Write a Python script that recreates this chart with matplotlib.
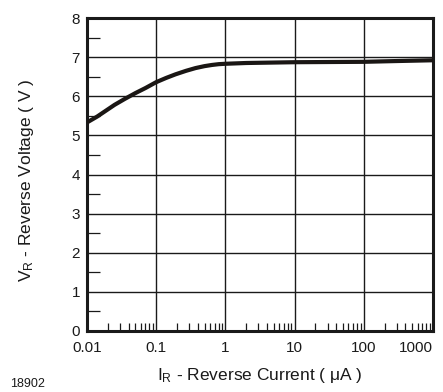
import numpy as np
import matplotlib
matplotlib.use('Agg')
import matplotlib.pyplot as plt
from matplotlib.ticker import LogLocator, FixedLocator, NullFormatter

plt.rcParams['font.family'] = ['Liberation Sans', 'DejaVu Sans']
plt.rcParams['mathtext.fontset'] = 'custom'
plt.rcParams['mathtext.rm'] = 'Liberation Sans'
plt.rcParams['mathtext.it'] = 'Liberation Sans'

# curve
current = [0.01, 0.014, 0.018, 0.025, 0.035, 0.05, 0.07, 0.1, 0.14, 0.19, 0.27, 0.37, 0.5, 0.64, 0.8, 1, 2, 10, 100, 300, 1000]
voltage = [5.33, 5.48, 5.61, 5.78, 5.93, 6.08, 6.21, 6.36, 6.47, 6.56, 6.65, 6.72, 6.77, 6.80, 6.82, 6.83, 6.85, 6.87, 6.88, 6.90, 6.92]
xticks = [0.01, 0.1, 1, 10, 100, 1000]
xlabels = ['0.01', '0.1', '1', '10', '100', '1000']
yticks = [0, 1, 2, 3, 4, 5, 6, 7, 8]

fig = plt.figure(figsize=(4.43, 3.92), dpi=100)
ax = fig.add_axes([87/443, 61/392, 346/443, 313/392])

ax.plot(current, voltage, color='#1a1614', lw=3.0, solid_capstyle='butt',
        solid_joinstyle='round', zorder=3)

ax.set_xscale('log')
ax.set_xlim(0.01, 1000)
ax.set_ylim(0, 8)

ax.set_xticks(xticks)
ax.set_xticklabels(xlabels)
ax.xaxis.set_minor_locator(LogLocator(base=10, subs=np.arange(2, 10)))
ax.xaxis.set_minor_formatter(NullFormatter())
ax.set_yticks(yticks)
ax.yaxis.set_minor_locator(FixedLocator(np.arange(0.5, 8, 1.0)))

ax.grid(True, which='major', color='#1a1a1a', lw=1.0)
ax.tick_params(which='major', length=0, labelsize=11, pad=5, colors='#1a1a1a')
ax.tick_params(axis='x', which='minor', direction='in', length=6, width=0.9, color='#1a1a1a')
ax.tick_params(axis='y', which='minor', direction='in', length=9, width=0.9, color='#1a1a1a')
ax.tick_params(axis='x', which='major', pad=7)

labs = ax.get_xticklabels()
labs[-1].set_horizontalalignment('right')
labs[-1].set_x(1000)

for s in ax.spines.values():
    s.set_linewidth(2.2)
    s.set_color('#1a1a1a')

ax.set_xlabel('I$_\\mathrm{R}$ - Reverse Current ( μA )', fontsize=12.5, labelpad=8, color='#1a1a1a')
ax.set_ylabel('V$_\\mathrm{R}$ - Reverse Voltage ( V )', fontsize=12.5, labelpad=6, color='#1a1a1a')
ax.yaxis.set_label_coords(-0.148, 0.48)

fig.text(10/443, 1 - 384/392, '18902', fontsize=9, color='#1a1a1a', va='center')

fig.savefig('out.png', dpi=100)
